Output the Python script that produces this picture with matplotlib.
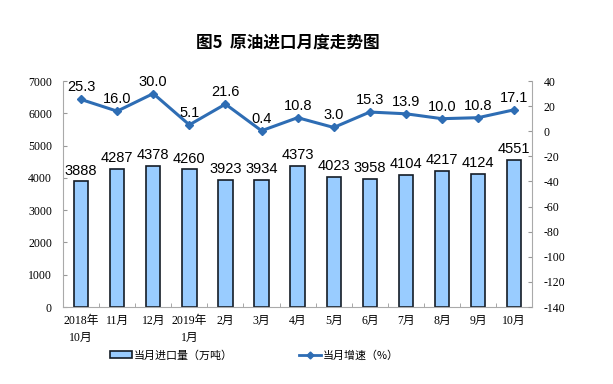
import numpy as np
import matplotlib.pyplot as plt
from matplotlib.lines import Line2D
from matplotlib.patches import Patch

plt.rcParams['font.family'] = ['Liberation Serif', 'Noto Sans CJK SC']
plt.rcParams['axes.unicode_minus'] = False

months = ["2018年\n10月", "11月", "12月", "2019年\n1月", "2月", "3月", "4月",
          "5月", "6月", "7月", "8月", "9月", "10月"]
imports = [3888, 4287, 4378, 4260, 3923, 3934, 4373, 4023, 3958, 4104, 4217, 4124, 4551]
growth = [25.3, 16.0, 30.0, 5.1, 21.6, 0.4, 10.8, 3.0, 15.3, 13.9, 10.0, 10.8, 17.1]

fig = plt.figure(figsize=(6.13, 3.84), dpi=100)
ax = fig.add_axes([0.1028, 0.2005, 0.7655, 0.5885])
ax2 = ax.twinx()

x = np.arange(len(months))
ax.bar(x, imports, width=0.4, color='#99CCFF', edgecolor='#141C26', linewidth=1.2, zorder=2)
for xi, v in zip(x, imports):
    ax.text(xi, v + 120, str(v), ha='center', va='bottom', fontsize=10.5,
            family=['Liberation Sans', 'DejaVu Sans'])

ax2.plot(x, growth, color='#2E6DB4', linewidth=2.2, marker='D', markersize=4.5, zorder=3)
for xi, v in zip(x, growth):
    ax2.text(xi, v + 4, f"{v:.1f}", ha='center', va='bottom', fontsize=10.5,
             family=['Liberation Sans', 'DejaVu Sans'])

ax.set_xlim(-0.5, len(months) - 0.5)
ax.set_ylim(0, 7000)
ax.set_yticks(range(0, 7001, 1000))
ax2.set_ylim(-140, 40)
ax2.set_yticks(range(-140, 41, 20))

ax.set_xticks(x)
ax.set_xticklabels(months, fontsize=8.5, linespacing=1.5)
ax.set_xticks(np.arange(-0.5, len(months), 1), minor=True)
ax.tick_params(axis='x', which='major', length=0, pad=6)
ax.tick_params(axis='x', which='minor', length=3, color='#999999', direction='in')
ax.tick_params(axis='y', labelsize=8.5, length=3, color='#999999', direction='in', pad=8)
ax2.tick_params(axis='y', labelsize=8.5, length=3, color='#999999', direction='in', pad=8)

for a in (ax, ax2):
    a.spines['top'].set_visible(False)
    for s in ('left', 'right', 'bottom'):
        a.spines[s].set_color('#AAAAAA')
ax.spines['right'].set_visible(False)
ax2.spines['left'].set_visible(False)
ax2.spines['bottom'].set_visible(False)

fig.text(0.47, 0.89, "图5  原油进口月度走势图", ha='center', va='center', fontsize=12,
         fontweight='bold', family=['Noto Sans CJK SC', 'DejaVu Sans'])

handles = [Patch(facecolor='#99CCFF', edgecolor='#141C26', linewidth=1.2),
           Line2D([0], [0], color='#2E6DB4', linewidth=2, marker='D', markersize=3.5)]
fig.legend(handles, ["当月进口量（万吨）", "当月增速（%）"], loc='center',
           bbox_to_anchor=(0.415, 0.075), ncol=2, frameon=False,
           columnspacing=6, handlelength=2.0, handleheight=0.55, handletextpad=0.2,
           prop={'family': ['Noto Sans CJK SC', 'DejaVu Sans'], 'size': 7.9})

fig.savefig("out.png", dpi=100)
